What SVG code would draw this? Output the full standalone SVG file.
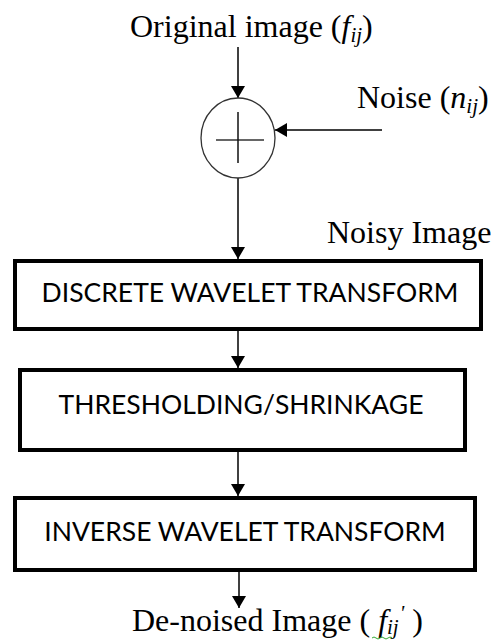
<svg xmlns="http://www.w3.org/2000/svg" width="497" height="640" viewBox="0 0 497 640">
<defs>
<marker id="ah" viewBox="0 0 12 14" refX="12" refY="7" markerWidth="12" markerHeight="14" markerUnits="userSpaceOnUse" orient="auto">
<path d="M0,0 L12,7 L0,14 Z" fill="#000"/>
</marker>
<style>
.lbl{font-family:"Liberation Serif","Times New Roman",serif;font-size:32px;fill:#000}
.it{font-style:italic}
.sub{font-style:italic;font-size:21px}
.box{fill:#fff;stroke:#000;stroke-width:4}
.btxt{font-family:Lato,"Open Sans",sans-serif;font-size:26.5px;fill:#000;text-anchor:middle}
.conn{stroke:#000;stroke-width:1.5;fill:none;marker-end:url(#ah)}
</style>
</defs>
<rect width="497" height="640" fill="#fff"/>
<g id="connectors">
<line class="conn" x1="238" y1="47" x2="238" y2="98"/>
<line class="conn" x1="382" y1="130" x2="275" y2="130"/>
<line class="conn" x1="238" y1="178" x2="238" y2="259"/>
<line class="conn" x1="238" y1="331" x2="238" y2="368"/>
<line class="conn" x1="238" y1="452" x2="238" y2="496"/>
<line class="conn" x1="239" y1="572" x2="239" y2="608"/>
</g>
<g id="label-original">
<text class="lbl" x="130" y="37">Original image (<tspan class="it">f</tspan><tspan class="sub" dy="5">ij</tspan><tspan dy="-5">)</tspan></text>
</g>
<g id="adder">
<ellipse cx="238" cy="138" rx="37" ry="40" fill="#fff" stroke="#333" stroke-width="1.3"/>
<line x1="216" y1="140" x2="264" y2="140" stroke="#666" stroke-width="2.2"/>
<line x1="238" y1="112" x2="238" y2="163" stroke="#111" stroke-width="1.5"/>
</g>
<g id="label-noise">
<text class="lbl" x="357" y="108">Noise (<tspan class="it">n</tspan><tspan class="sub" dy="5">ij</tspan><tspan dy="-5">)</tspan></text>
</g>
<g id="label-noisy">
<text class="lbl" x="327" y="243">Noisy Image</text>
</g>
<g id="dwt">
<rect class="box" x="15" y="261" width="466" height="68"/>
<text class="btxt" x="250" y="302">DISCRETE WAVELET TRANSFORM</text>
</g>
<g id="threshold">
<rect class="box" x="20" y="370" width="445" height="80"/>
<text class="btxt" x="241" y="414">THRESHOLDING/SHRINKAGE</text>
</g>
<g id="iwt">
<rect class="box" x="15" y="498" width="460" height="72"/>
<text class="btxt" x="245" y="541">INVERSE WAVELET TRANSFORM</text>
</g>
<g id="label-denoised">
<text class="lbl" x="132" y="631">De-noised Image ( <tspan class="it">f</tspan><tspan class="sub" dy="3">ij</tspan><tspan class="sub" dx="1" dy="-14" font-size="15">'</tspan><tspan dy="11"> )</tspan></text>
<path d="M372,638 q2,-2 4,0 t4,0 t4,0 t4,0 t4,0" stroke="#3a3" stroke-width="1" fill="none"/>
</g>
</svg>
